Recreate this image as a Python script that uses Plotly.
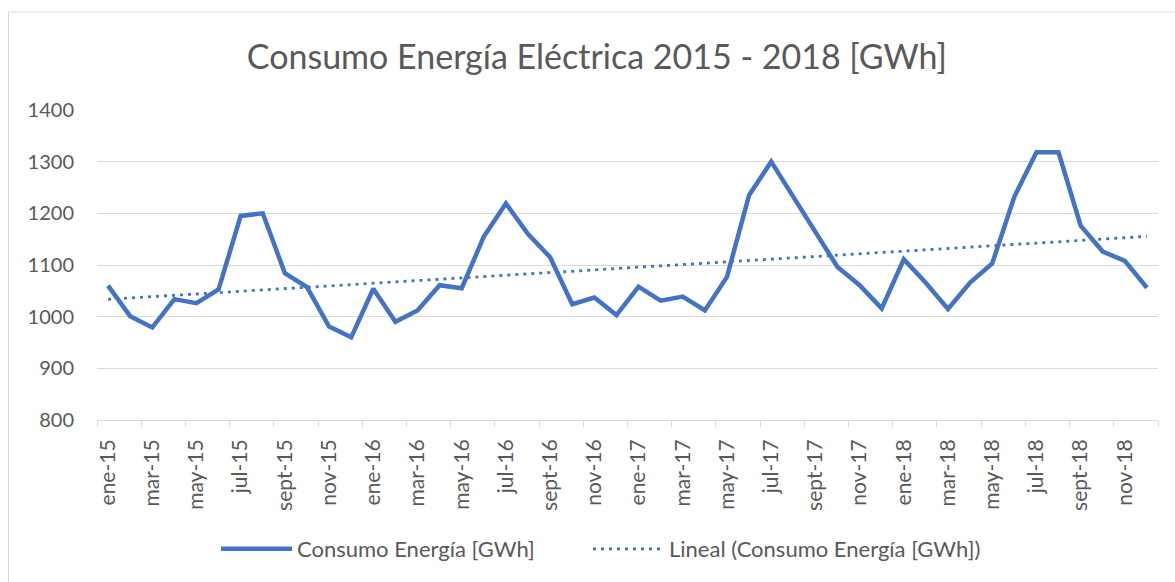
import numpy as np
import plotly.graph_objects as go

months = ["ene", "feb", "mar", "abr", "may", "jun", "jul", "ago", "sept", "oct", "nov", "dic"]
years = ["15", "16", "17", "18"]
categories = [f"{m}-{y}" for y in years for m in months]

consumo = [
    1060, 1001, 979, 1034, 1026, 1053, 1195, 1200, 1084, 1057, 981, 960,
    1054, 990, 1012, 1061, 1055, 1155, 1219, 1160, 1115, 1024, 1037, 1003,
    1058, 1031, 1039, 1012, 1077, 1235, 1300, 1232, 1168, 1096, 1061, 1016,
    1111, 1065, 1015, 1066, 1103, 1232, 1318, 1318, 1176, 1126, 1108, 1056,
]

series_name = "Consumo Energía [GWh]"
trend_name = "Lineal (Consumo Energía [GWh])"
title_text = "Consumo Energía Eléctrica 2015 - 2018 [GWh]"

idx = np.arange(len(consumo))
slope, intercept = np.polyfit(idx, consumo, 1)
trend = intercept + slope * idx

W, H = 1175, 582
ml, mr, mt, mb = 97, 17, 110, 162
pw = W - ml - mr
ph = H - mt - mb

def px_x(p):
    return (p - ml) / pw

def px_y(p):
    return (H - mb - p) / ph

blue = "#4472C4"
txt = "#595959"
grid = "#d9d9d9"
font_family = "Lato, 'Open Sans', sans-serif"

fig = go.Figure()
fig.add_trace(go.Scatter(x=idx, y=consumo, mode="lines", name=series_name, legend="legend",
                         line=dict(color=blue, width=4.5)))
fig.add_trace(go.Scatter(x=idx, y=trend, mode="lines", name=trend_name, legend="legend2",
                         line=dict(color=blue, width=2.8, dash="3px,5px")))
# invisible trace carrying the boundary tick marks
fig.add_trace(go.Scatter(x=[-0.5, 47.5], y=[800, 800], xaxis="x2", mode="lines",
                         line=dict(width=0), showlegend=False, hoverinfo="skip"))

tick_idx = list(range(0, 48, 2))
legend_common = dict(orientation="h", yanchor="middle", xanchor="left",
                     font=dict(family=font_family, size=22, color=txt),
                     itemwidth=71, bgcolor="rgba(0,0,0,0)", borderwidth=0)

fig.update_layout(
    width=W, height=H,
    margin=dict(l=ml, r=mr, t=mt, b=mb),
    paper_bgcolor="white", plot_bgcolor="white",
    title=dict(text=title_text, x=0.508, xanchor="center", y=1 - 57 / H, yanchor="middle",
               font=dict(family=font_family, size=34, color=txt)),
    xaxis=dict(range=[-0.5, 47.5], tickmode="array", tickvals=tick_idx,
               ticktext=[categories[i] for i in tick_idx], tickangle=-90,
               showgrid=False, zeroline=False, showline=True, linecolor=grid, linewidth=1,
               ticks="", ticklabelstandoff=10,
               tickfont=dict(family=font_family, size=21, color=txt)),
    xaxis2=dict(range=[-0.5, 47.5], overlaying="x", side="bottom", tickmode="array",
                tickvals=[-0.5 + 2 * k for k in range(25)], ticks="outside", ticklen=6,
                tickcolor=grid, showticklabels=False, showgrid=False, zeroline=False,
                showline=False),
    yaxis=dict(range=[800, 1400], dtick=100, showgrid=True, gridcolor=grid, gridwidth=1,
               zeroline=False, showline=False, ticks="", ticklabelstandoff=22,
               tickfont=dict(family=font_family, size=20, color=txt)),
    legend=dict(x=px_x(216), y=px_y(549), **legend_common),
    legend2=dict(x=px_x(588), y=px_y(549), **legend_common),
    shapes=[dict(type="rect", xref="paper", yref="paper",
                 x0=px_x(8.5), x1=px_x(1185),
                 y0=px_y(595), y1=px_y(12),
                 line=dict(color=grid, width=1), layer="below")],
    showlegend=True,
)

fig.write_html("out.html", config={"displayModeBar": False},
               post_script="document.body.style.margin='0';")
